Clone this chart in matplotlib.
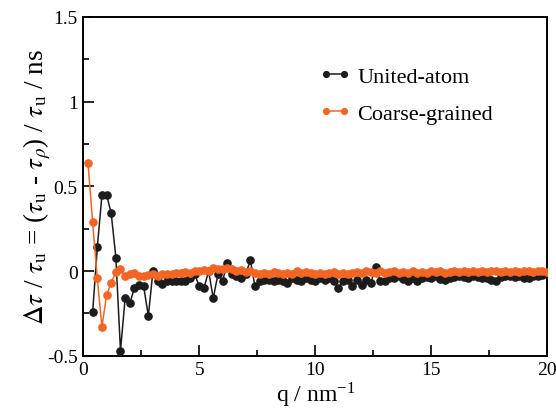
import numpy as np
import matplotlib
matplotlib.use("Agg")
import matplotlib.pyplot as plt
from matplotlib.lines import Line2D
from matplotlib.legend_handler import HandlerLine2D
from matplotlib.ticker import MultipleLocator

plt.rcParams['font.family'] = ['Liberation Serif', 'DejaVu Serif']
plt.rcParams['mathtext.fontset'] = 'stix'

# Relative difference of relaxation times on a uniform q grid (nm^-1)
q_step = 0.2
united_atom = [
    -0.24, 0.14, 0.45, 0.45, 0.34, 0.08, -0.47, -0.16, -0.19, -0.10,
    -0.08, -0.09, -0.265, 0.0, -0.06, -0.075, -0.06, -0.06, -0.06, -0.06,
    -0.06, -0.04, -0.02, -0.09, -0.10, 0.0, -0.16, -0.02, -0.06, 0.045,
    -0.02, -0.03, -0.04, -0.02, 0.065, -0.09, -0.06, -0.055, -0.05, -0.06,
    -0.05, -0.06, -0.07, -0.04, -0.05, -0.06, -0.04, -0.05, -0.06, -0.04,
    -0.05, -0.04, -0.06, -0.10, -0.06, -0.05, -0.09, -0.05, -0.08, -0.05,
    -0.07, 0.026, -0.057, -0.057, -0.04, -0.04, -0.03, -0.045, -0.057, -0.04,
    -0.057, -0.04, -0.035, -0.04, -0.03, -0.045, -0.055, -0.04, -0.035, -0.03,
    -0.035, -0.04, -0.03, -0.035, -0.04, -0.04, -0.05, -0.06, -0.035, -0.03,
    -0.03, -0.035, -0.03, -0.04, -0.04, -0.03, -0.03, -0.025, -0.02,
]
coarse_grained = [
    0.635, 0.287, -0.043, -0.33, -0.14, -0.07, -0.005, 0.01, -0.03, -0.015,
    -0.01, -0.03, -0.03, -0.025, -0.02, -0.03, -0.02, -0.015, -0.02, -0.01,
    -0.01, -0.005, -0.01, 0.0, 0.0, 0.005, 0.0, 0.02, 0.015, 0.01,
    0.02, 0.01, 0.0, 0.005, -0.005, 0.0, -0.01, -0.02, -0.01, -0.015,
    -0.005, -0.01, -0.02, -0.01, -0.015, 0.0, -0.01, -0.005, -0.01, -0.015,
    -0.01, -0.02, -0.01, -0.005, -0.015, -0.01, -0.02, -0.01, -0.005, -0.01,
    0.0, -0.005, -0.01, 0.0, -0.01, -0.005, 0.0, -0.01, -0.005, -0.01,
    0.0, -0.01, -0.005, -0.01, 0.0, -0.005, 0.0, -0.01, -0.005, 0.0,
    -0.005, 0.0, -0.005, 0.0, -0.005, 0.0, -0.005, 0.0, 0.0, -0.005,
    0.0, -0.005, 0.0, -0.005, 0.0, 0.0, -0.005, 0.0, 0.0, -0.005,
]
q_cg = q_step * np.arange(1, len(coarse_grained) + 1)
q_ua = q_step * np.arange(2, len(united_atom) + 2)

black = '#1c1c1c'
orange = '#f26522'

fig = plt.figure(figsize=(5.56, 4.14), dpi=100)
ax = fig.add_axes([0.150, 0.138, 0.834, 0.819])

ax.plot(q_ua, united_atom, '-o', color=black, lw=1.1, ms=5.2,
        label='United-atom', zorder=3)
ax.plot(q_cg, coarse_grained, '-o', color=orange, lw=1.1, ms=5.2,
        label='Coarse-grained', zorder=4)

ax.set_xlim(0, 20)
ax.set_ylim(-0.5, 1.5)
ax.xaxis.set_major_locator(MultipleLocator(5))
ax.xaxis.set_minor_locator(MultipleLocator(2.5))
ax.yaxis.set_major_locator(MultipleLocator(0.5))
ax.yaxis.set_minor_locator(MultipleLocator(0.25))
ax.xaxis.set_major_formatter(plt.FuncFormatter(lambda v, p: f'{v:g}'))
ax.yaxis.set_major_formatter(plt.FuncFormatter(lambda v, p: f'{v:g}'))
ax.tick_params(which='major', direction='in', length=8, width=1.2,
               labelsize=14, top=False, right=False, pad=4)
ax.tick_params(which='minor', direction='in', length=4.5, width=1.2,
               top=False, right=False)
for s in ax.spines.values():
    s.set_linewidth(1.4)

ax.set_xlabel(r'q / nm$^{\mathregular{-1}}$', fontsize=17, labelpad=1)
ax.set_ylabel(r'$\Delta\tau$ / $\tau_{\mathregular{u}}$ = ($\tau_{\mathregular{u}}$ - '
              r'$\tau_{\rho}$) / $\tau_{\mathregular{u}}$ / ns',
              fontsize=19.5, labelpad=-4)

# Legend keys: a short segment with a dot at each end
leg = ax.legend(loc='upper left', bbox_to_anchor=(0.48, 0.912), frameon=False,
                fontsize=16, handlelength=0.8, handletextpad=0.6,
                labelspacing=0.72, markerscale=0.8,
                handler_map={Line2D: HandlerLine2D(marker_pad=0.0, numpoints=2)})

fig.savefig('out.png', dpi=100)
